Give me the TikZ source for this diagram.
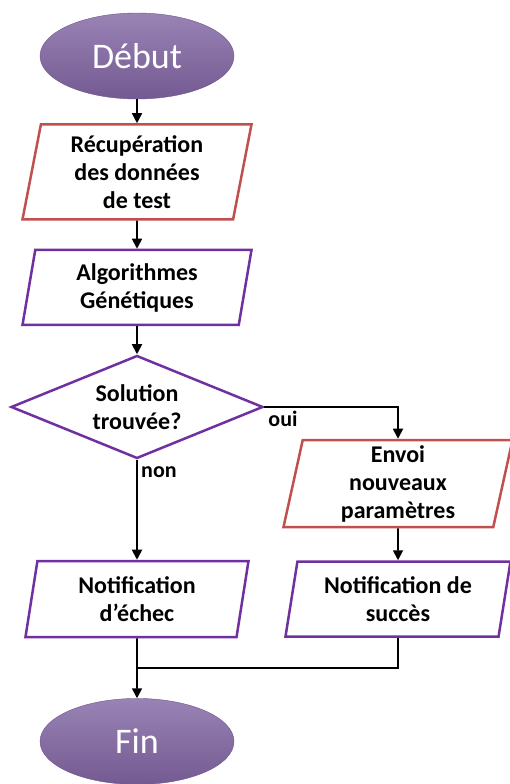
\documentclass[tikz,border=0pt]{standalone}
\usepackage{fontspec}
\setmainfont{Carlito}
\usetikzlibrary{shapes.geometric, arrows.meta, positioning}
\definecolor{purpleline}{HTML}{7030A0}
\definecolor{redline}{HTML}{C0504D}
\definecolor{purplefill}{HTML}{8064A2}
\tikzset{
  terminal/.style={
    ellipse, minimum width=194pt, minimum height=86pt,
    top color=purplefill!80!white, middle color=purplefill,
    bottom color=purplefill!90!black,
    draw=purplefill!85!black, thin,
    text=white, font=\fontsize{36}{40}\selectfont,
  },
  iored/.style={
    trapezium, trapezium left angle=77, trapezium right angle=103,
    trapezium stretches body,
    minimum width=229pt, minimum height=95pt,
    align=center, draw=redline, line width=2.5pt,
    fill=white, font=\fontsize{24}{28}\selectfont\bfseries,
  },
  iopurple/.style={
    iored, draw=purpleline, minimum height=75pt,
  },
  decision/.style={
    diamond, aspect=2.45, inner sep=0pt,
    minimum width=252pt, minimum height=103pt,
    align=center, draw=purpleline, line width=2.5pt,
    fill=white, font=\fontsize{24}{28}\selectfont\bfseries,
  },
  arrow/.style={-{Triangle[length=10pt, width=10pt]}, line width=1.8pt, color=black},
  line/.style={line width=1.8pt, color=black},
  lbl/.style={font=\fontsize{22}{26}\selectfont\bfseries},
}
\begin{document}
\begin{tikzpicture}[x=1pt, y=1pt]
  \useasboundingbox (0,0) rectangle (510,-784);

  \node[terminal] (debut) at (137,-56) {Début};
  \node[iored, below=24pt of debut] (recup) {Récupération\\des données\\de test};
  \node[iopurple, below=28pt of recup] (algo) {Algorithmes\\Génétiques};
  \node[decision, below=28pt of algo] (dec) {Solution\\trouvée?};
  \node[iopurple, below=100pt of dec, minimum width=223pt, minimum height=76pt] (echec) {Notification\\d’échec};
  \node[iored, minimum height=87pt] (envoi) at (398,-483.5) {Envoi\\nouveaux\\paramètres};
  \node[iopurple, below=32pt of envoi, minimum width=225pt] (succes) {Notification de\\succès};
  \node[terminal, below=60pt of echec] (fin) {Fin};
  \coordinate (join) at (echec.south |- 0,-668);

  \draw[arrow] (debut) -- (recup);
  \draw[arrow] (recup) -- (algo);
  \draw[arrow] (algo) -- (dec);
  \draw[arrow] (dec.east) -| node[lbl, pos=0.07, below] {oui} (envoi.north);
  \draw[arrow] (dec.south) -- node[lbl, pos=0.12, right] {non} (echec.north);
  \draw[arrow] (envoi) -- (succes);
  \draw[arrow] (echec) -- (fin);
  \draw[line] (succes.south) |- (join);

\end{tikzpicture}
\end{document}
